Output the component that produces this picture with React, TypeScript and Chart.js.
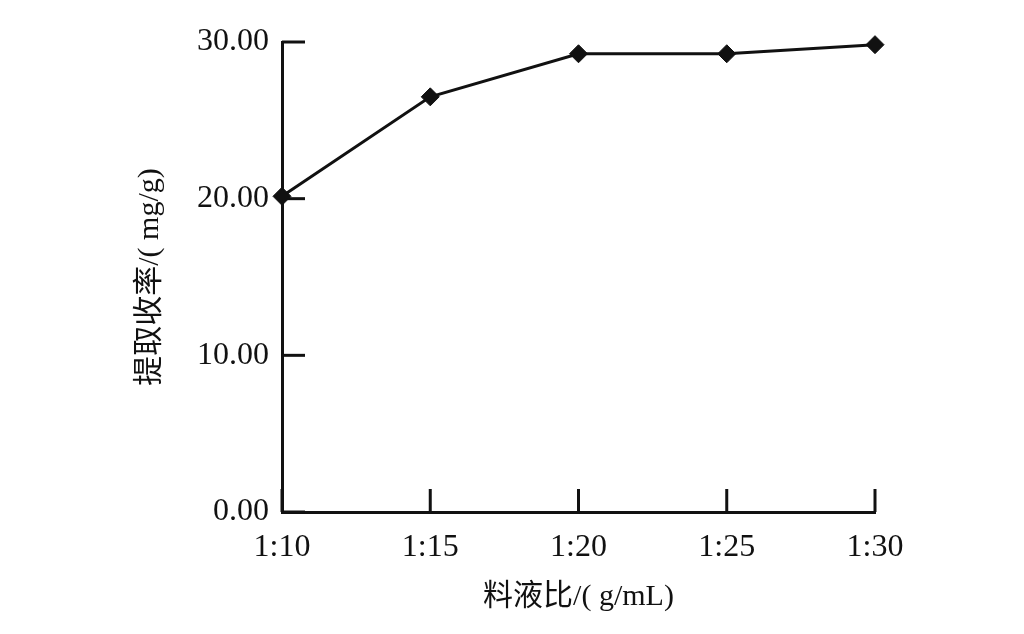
import React, { useEffect, useRef } from "react";
import { Chart, registerables } from "chart.js";

Chart.register(...registerables);

const categories = ["1:10", "1:15", "1:20", "1:25", "1:30"];
const extractionYield = [20.15, 26.5, 29.25, 29.25, 29.83];
const yTickValues = [0, 10, 20, 30];
const xTitle = "料液比/( g/mL)";
const yTitle = "提取收率/( mg/g)";

const FONT = "'Liberation Serif', 'Noto Sans CJK SC', serif";
const TITLE_FONT = "'Liberation Serif', 'Noto Sans CJK SC', serif";
const INK = "#111111";

const innerTicks = {
  id: "innerTicks",
  beforeDatasetsDraw(chart: any) {
    const { ctx } = chart;
    const xs = chart.scales.x;
    const ys = chart.scales.y;
    const len = 23;
    ctx.save();
    ctx.strokeStyle = INK;
    ctx.lineWidth = 3;
    ctx.lineCap = "butt";
    ys.ticks.forEach((_t: any, i: number) => {
      const y = ys.getPixelForTick(i);
      ctx.beginPath();
      ctx.moveTo(xs.left, y);
      ctx.lineTo(xs.left + len, y);
      ctx.stroke();
    });
    xs.ticks.forEach((_t: any, i: number) => {
      const x = xs.getPixelForTick(i);
      ctx.beginPath();
      ctx.moveTo(x, ys.bottom);
      ctx.lineTo(x, ys.bottom - len);
      ctx.stroke();
    });
    ctx.restore();
  },
};

export default function App() {
  const ref = useRef<HTMLCanvasElement>(null);
  useEffect(() => {
    if (!ref.current) return;
    const chart = new Chart(ref.current, {
      type: "line",
      data: {
        labels: categories,
        datasets: [
          {
            data: extractionYield,
            borderColor: INK,
            borderWidth: 3,
            tension: 0,
            pointStyle: "rectRot",
            pointRadius: 9,
            pointBackgroundColor: INK,
            pointBorderColor: INK,
            pointBorderWidth: 1,
            clip: false as any,
          },
        ],
      },
      options: {
        responsive: false,
        animation: false,
        layout: { padding: { top: 42, right: 149, bottom: 0, left: 0 } },
        plugins: { legend: { display: false }, tooltip: { enabled: false } },
        scales: {
          x: {
            type: "category",
            offset: false,
            grid: { display: false },
            border: { display: true, color: INK, width: 3 },
            ticks: {
              color: INK,
              font: { family: FONT, size: 32 },
              padding: 8,
              maxRotation: 0,
              autoSkip: false,
            },
            title: {
              display: true,
              text: xTitle,
              color: INK,
              font: { family: TITLE_FONT, size: 30 },
              padding: { top: 0, bottom: 19 },
            },
            afterFit(scale: any) {
              scale.height = 122;
            },
          },
          y: {
            min: 0,
            max: 30,
            grid: { display: false },
            border: { display: true, color: INK, width: 3 },
            afterBuildTicks(scale: any) {
              scale.ticks = yTickValues.map((v) => ({ value: v }));
            },
            ticks: {
              color: INK,
              font: { family: FONT, size: 32 },
              padding: 5,
              callback: (v: any) => Number(v).toFixed(2),
            },
            title: {
              display: true,
              text: yTitle,
              color: INK,
              font: { family: TITLE_FONT, size: 30 },
              padding: { top: 132, bottom: 0 },
            },
            afterFit(scale: any) {
              scale.width = 282;
            },
          },
        },
      },
      plugins: [innerTicks],
    });
    return () => chart.destroy();
  }, []);
  return (
    <div style={{ position: "fixed", left: 0, top: 0, width: 1024, height: 634, background: "#fff" }}>
      <canvas ref={ref} width={1024} height={634} />
    </div>
  );
}
